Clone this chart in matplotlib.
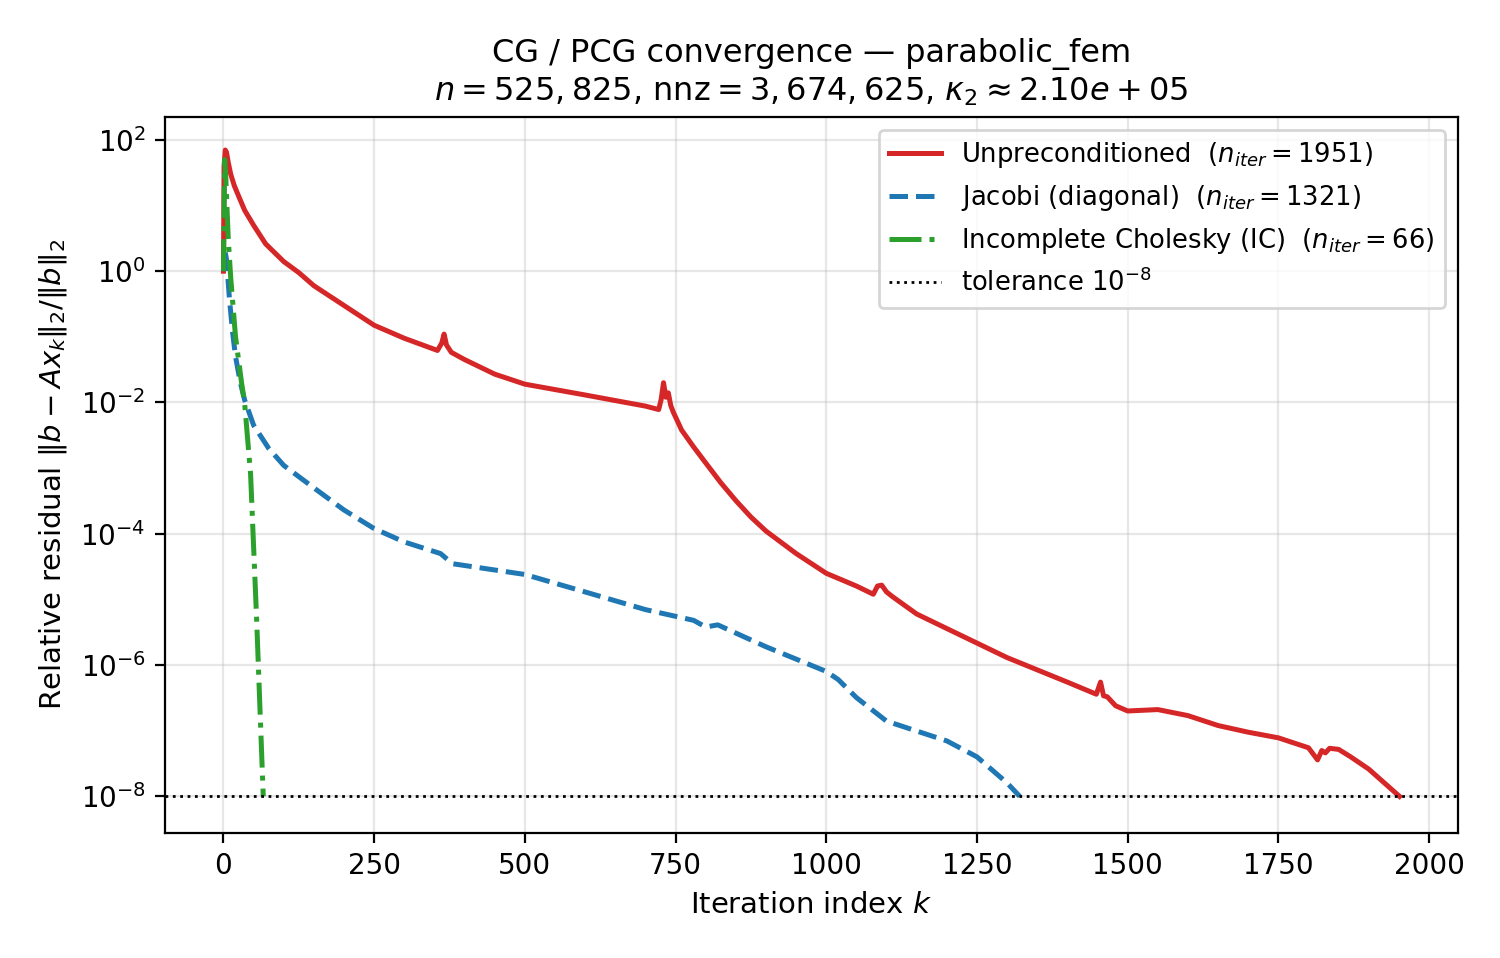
import numpy as np
import matplotlib
matplotlib.use("Agg")
import matplotlib.pyplot as plt

# residual histories (iteration, residual)
red_k = [0, 1, 3, 5, 8, 12, 18, 25, 35, 50, 70, 100, 125, 150, 200, 250, 300, 355, 362, 366, 370, 378, 400,
         450, 500, 600, 700, 722, 726, 730, 734, 738, 742, 746, 760, 780, 800, 825, 850, 875, 900, 950,
         1000, 1050, 1078, 1085, 1092, 1100, 1110, 1150, 1200, 1300, 1400, 1448, 1455, 1460, 1466, 1480,
         1500, 1550, 1600, 1650, 1700, 1750, 1800, 1815, 1822, 1828, 1835, 1850, 1870, 1900, 1951]
red_r = [1.0, 40, 70, 65, 45, 30, 20, 14, 8.5, 5, 2.6, 1.4, 0.95, 0.6, 0.3, 0.15, 0.095, 0.062, 0.08, 0.11,
         0.075, 0.058, 0.045, 0.027, 0.019, 0.013, 0.0088, 0.0078, 0.011, 0.02, 0.012, 0.014, 0.009,
         0.0072, 0.0038, 0.0021, 0.0012, 0.0006, 0.00032, 0.00018, 0.00011, 5e-5, 2.5e-5, 1.6e-5, 1.2e-5,
         1.6e-5, 1.65e-5, 1.3e-5, 1.1e-5, 6e-6, 3.6e-6, 1.3e-6, 5.5e-7, 3.6e-7, 5.5e-7, 3.4e-7, 3.3e-7,
         2.4e-7, 2.0e-7, 2.1e-7, 1.7e-7, 1.2e-7, 9.5e-8, 7.8e-8, 5.5e-8, 3.6e-8, 5.0e-8, 4.6e-8, 5.4e-8,
         5.2e-8, 4.0e-8, 2.6e-8, 1.0e-8]

blue_k = [0, 2, 5, 10, 15, 20, 28, 35, 50, 75, 100, 150, 200, 250, 300, 360, 380, 500, 600, 700, 780, 800,
          820, 900, 1000, 1020, 1050, 1100, 1200, 1250, 1300, 1321]
blue_r = [1.0, 2.2, 1.5, 0.37, 0.12, 0.05, 0.02, 0.011, 4.5e-3, 2e-3, 1.1e-3, 5e-4, 2.3e-4, 1.2e-4, 7.5e-5,
          5e-5, 3.5e-5, 2.4e-5, 1.3e-5, 7e-6, 4.8e-6, 3.8e-6, 4.1e-6, 1.9e-6, 8e-7, 6e-7, 3.2e-7, 1.4e-7,
          7e-8, 4e-8, 1.6e-8, 1.0e-8]

green_k = [0, 2, 4, 8, 12, 20, 30, 35, 45, 55, 66]
green_r = [1.0, 50, 25, 3, 0.8, 0.1, 0.02, 0.01, 8e-4, 5e-6, 1.0e-8]

tol = 1e-8

fig, ax = plt.subplots(figsize=(7.5, 4.79), dpi=200)
ax.semilogy(red_k, red_r, color="#d62728", lw=1.8,
            label=r"Unpreconditioned  ($n_{iter} = 1951$)")
ax.semilogy(blue_k, blue_r, color="#1f77b4", lw=1.8, ls="--",
            label=r"Jacobi (diagonal)  ($n_{iter} = 1321$)")
ax.semilogy(green_k, green_r, color="#2ca02c", lw=1.8, ls="-.",
            label=r"Incomplete Cholesky (IC)  ($n_{iter} = 66$)")
ax.axhline(tol, color="black", ls=":", lw=1.0, label=r"tolerance $10^{-8}$")

ax.set_xlim(-97, 2048)
ax.set_ylim(10**-8.55, 10**2.35)
ax.set_yticks([1e2, 1e0, 1e-2, 1e-4, 1e-6, 1e-8])
ax.grid(True, alpha=0.3)
ax.set_xlabel(r"Iteration index $k$", fontsize=10.5)
ax.set_ylabel(r"Relative residual $\|b - Ax_k\|_2 / \|b\|_2$", fontsize=10.5)
ax.set_title("CG / PCG convergence — parabolic_fem\n"
             r"$n = 525,825$, $\mathrm{nnz} = 3,674,625$, $\kappa_2 \approx 2.10e+05$", fontsize=11.5)
ax.legend(loc="upper right", fontsize=9.3)

plt.subplots_adjust(left=0.11, right=0.972, top=0.878, bottom=0.131)
plt.savefig("out.png")
